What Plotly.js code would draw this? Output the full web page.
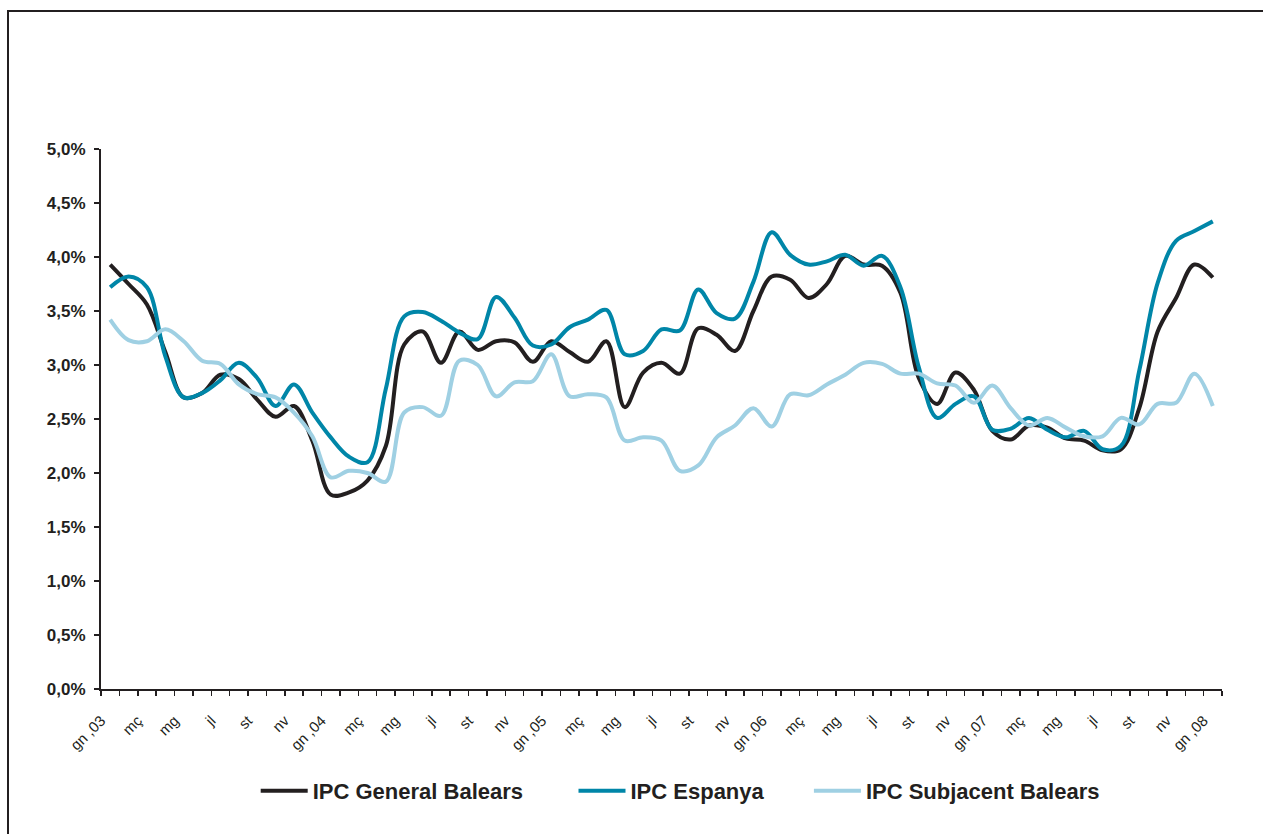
<!DOCTYPE html>
<html>
<head>
<meta charset="utf-8">
<script src="https://cdn.plot.ly/plotly-3.0.1.min.js"></script>
<style>
  html, body { margin:0; padding:0; background:#fff; overflow:hidden; }
  #chart { position:absolute; left:0; top:0; width:1263px; height:834px; }
  #frame { position:absolute; left:7px; top:10px; width:1300px; height:900px;
           border-top:2px solid #231f20; border-left:2px solid #231f20; pointer-events:none; }
</style>
</head>
<body>
<div id="chart"></div>
<div id="frame"></div>
<script>
// Month labels shown on the axis (every second month, Jan 2003 .. Jan 2008)
const tickLabels = ["gn ,03","mç","mg","jl","st","nv",
                    "gn ,04","mç","mg","jl","st","nv",
                    "gn ,05","mç","mg","jl","st","nv",
                    "gn ,06","mç","mg","jl","st","nv",
                    "gn ,07","mç","mg","jl","st","nv",
                    "gn ,08"];

// Year-on-year inflation, %, monthly Jan 2003 .. Jan 2008
const ipcGeneralBalears = [
  3.93,3.75,3.56,3.12,2.70,2.74,2.91,2.87,2.68,2.52,2.62,2.30,
  1.80,1.82,1.93,2.25,3.19,3.31,3.02,3.31,3.14,3.22,3.21,3.03,
  3.22,3.12,3.03,3.22,2.61,2.93,3.02,2.92,3.34,3.28,3.13,3.50,
  3.82,3.79,3.62,3.75,4.01,3.93,3.92,3.67,2.88,2.64,2.93,2.77,
  2.39,2.31,2.44,2.42,2.32,2.30,2.21,2.22,2.60,3.31,3.62,3.93,
  3.81];
const ipcEspanya = [
  3.72,3.82,3.72,3.08,2.70,2.74,2.86,3.02,2.88,2.62,2.82,2.56,
  2.33,2.15,2.10,2.78,3.45,3.49,3.41,3.30,3.24,3.63,3.44,3.18,
  3.19,3.35,3.42,3.51,3.10,3.13,3.33,3.32,3.70,3.48,3.43,3.77,
  4.23,4.02,3.93,3.96,4.02,3.92,4.01,3.72,2.98,2.51,2.64,2.71,
  2.40,2.41,2.51,2.40,2.33,2.39,2.22,2.25,2.95,3.76,4.15,4.24,
  4.33];
const ipcSubjacentBalears = [
  3.42,3.23,3.22,3.33,3.22,3.04,3.01,2.82,2.73,2.70,2.56,2.34,
  1.96,2.02,2.00,1.92,2.56,2.61,2.53,3.04,3.00,2.71,2.84,2.85,
  3.10,2.71,2.73,2.70,2.30,2.33,2.30,2.02,2.07,2.33,2.44,2.60,
  2.43,2.73,2.72,2.82,2.91,3.02,3.01,2.92,2.92,2.83,2.81,2.65,
  2.81,2.60,2.44,2.51,2.42,2.34,2.34,2.51,2.45,2.64,2.65,2.92,
  2.62];

const seriesNames = ["IPC General Balears","IPC Espanya","IPC Subjacent Balears"];
const seriesColors = ["#231f20","#0086a8","#9fd0e3"];

const n = ipcGeneralBalears.length;
const xIdx = ipcGeneralBalears.map((_, i) => i);
const labelVals = tickLabels.map((_, k) => 2 * k - 0.5);
const boundaries = Array.from({length: n + 1}, (_, i) => i - 0.5);

const allSeries = [ipcGeneralBalears, ipcEspanya, ipcSubjacentBalears];
const legendIds = ["legend","legend2","legend3"];
const traces = allSeries.map((ys, s) => ({
  type: "scatter", mode: "lines", x: xIdx, y: ys, name: seriesNames[s],
  line: { color: seriesColors[s], width: 4, shape: "spline", smoothing: 1 },
  legend: legendIds[s], hoverinfo: "skip"
}));

const legendFont = { family: "Liberation Sans, Arial, sans-serif", size: 22, weight: "bold", color: "#231f20" };
const legendBase = { orientation: "h", yanchor: "middle", xanchor: "left", y: -0.189,
                     bgcolor: "rgba(0,0,0,0)", borderwidth: 0, font: legendFont, itemwidth: 47 };

const layout = {
  width: 1263, height: 834,
  margin: { l: 101, r: 41, t: 149, b: 145, pad: 0 },
  paper_bgcolor: "#ffffff", plot_bgcolor: "#ffffff",
  separators: ",.",
  font: { family: "Liberation Sans, Arial, sans-serif", color: "#231f20" },
  showlegend: true,
  xaxis: {
    range: [-0.5, n - 0.5], showgrid: false, zeroline: false,
    showline: true, linecolor: "#231f20", linewidth: 2,
    tickmode: "array", tickvals: labelVals, ticktext: tickLabels,
    ticks: "", tickangle: -45, ticklabelstandoff: 15,
    tickfont: { family: "Liberation Sans, Arial, sans-serif", size: 15, color: "#231f20" },
    minor: { tickmode: "array", tickvals: boundaries, ticks: "outside", ticklen: 5,
             tickwidth: 1.5, tickcolor: "#231f20", showgrid: false }
  },
  yaxis: {
    range: [0, 5], showgrid: false, zeroline: false,
    showline: true, linecolor: "#231f20", linewidth: 2,
    tickmode: "linear", tick0: 0, dtick: 0.5, tickformat: ".1f", ticksuffix: "%",
    ticks: "outside", ticklen: 5, tickwidth: 1.5, tickcolor: "#231f20",
    ticklabelstandoff: 5,
    tickfont: { family: "Liberation Sans, Arial, sans-serif", size: 17, weight: "bold", color: "#231f20" }
  },
  legend:  Object.assign({}, legendBase, { x: 0.138 }),
  legend2: Object.assign({}, legendBase, { x: 0.4215 }),
  legend3: Object.assign({}, legendBase, { x: 0.6315 })
};

Plotly.newPlot("chart", traces, layout, { staticPlot: true, displayModeBar: false });
</script>
</body>
</html>
